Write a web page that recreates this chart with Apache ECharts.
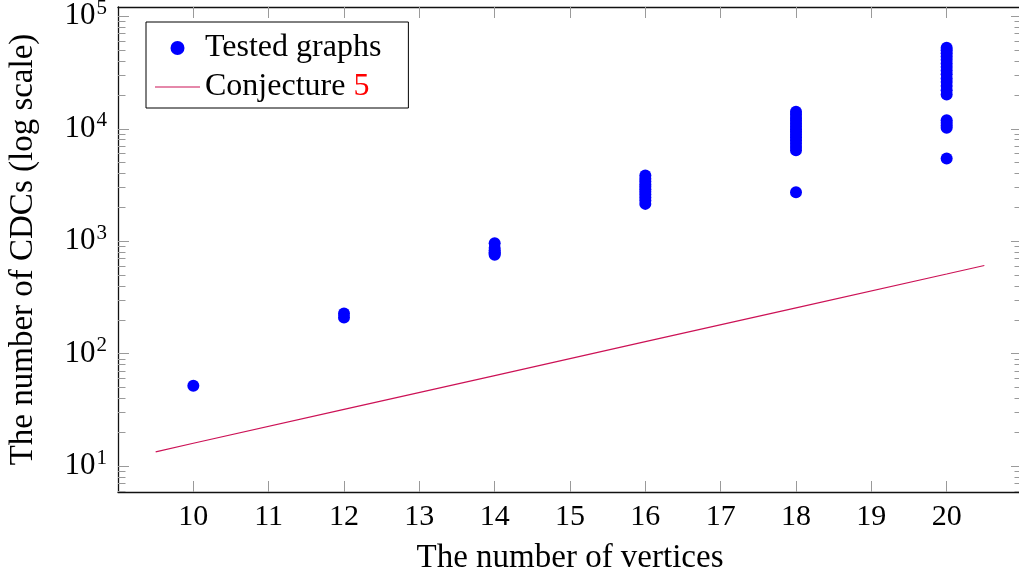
<!DOCTYPE html>
<html>
<head>
<meta charset="utf-8">
<script src="https://cdn.jsdelivr.net/npm/echarts@6/dist/echarts.min.js"></script>
<style>
html,body{margin:0;padding:0;background:#fff;}
#chart{width:1019px;height:572px;}
</style>
</head>
<body>
<div id="chart"></div>
<script>
// ---- data ----
const xTicks = [10, 11, 12, 13, 14, 15, 16, 17, 18, 19, 20];
const yMajorTicks = [10, 100, 1000, 10000, 100000];
const yMinorTicks = [6, 7, 8, 9, 20, 30, 40, 50, 60, 70, 80, 90, 200, 300, 400, 500, 600, 700, 800, 900,
  2000, 3000, 4000, 5000, 6000, 7000, 8000, 9000, 20000, 30000, 40000, 50000, 60000, 70000, 80000, 90000];

const tested_n10 = [52];
const tested_n12 = [210, 228];
const tested_n14 = [760, 780, 800, 830, 870, 960];
const tested_n16 = [2150, 2300, 2450, 2600, 2750, 2900, 3050, 3200, 3400, 3600, 3850];
const tested_n18 = [2730, 6450, 6900, 7400, 7900, 8400, 8900, 9400, 9900, 10500, 11100, 11800, 12500, 13300, 14200];
const tested_n20 = [5450, 10200, 10700, 11300, 11900, 20200, 22000, 24000, 26000, 28000, 30500, 33000,
  35500, 38000, 41000, 44000, 47000, 50000, 52500];

const conjX = [9.5, 10, 12, 14, 16, 18, 20, 20.5];
const conjY = [13.4, 16, 32, 64, 128, 256, 512, 609];

// ---- build ----
const testedPts = [];
[[10, tested_n10], [12, tested_n12], [14, tested_n14], [16, tested_n16], [18, tested_n18], [20, tested_n20]]
  .forEach(([n, arr]) => arr.forEach(v => testedPts.push([n, v])));
const conjPts = conjX.map((x, i) => [x, conjY[i]]);

const FONT = 'Liberation Serif';
const tickColor = '#9a9a9a';
const YMIN = 5.9, YMAX = 121000;

function yMajorAxis(pos, showLabels) {
  return {
    type: 'log', logBase: 10, min: YMIN, max: YMAX, position: pos,
    axisLine: { show: true, lineStyle: { color: '#111', width: 1.3 } },
    axisTick: { show: true, inside: true, length: 11, customValues: yMajorTicks,
      lineStyle: { color: tickColor, width: 1 } },
    axisLabel: { show: showLabels, customValues: yMajorTicks, margin: 11,
      formatter: v => '{b|10}{s|' + Math.round(Math.log10(v)) + '}',
      rich: {
        b: { fontFamily: FONT, fontSize: 31, color: '#000' },
        s: { fontFamily: FONT, fontSize: 21, color: '#000', padding: [0, 0, 16, 1] }
      } },
    splitLine: { show: false },
    name: showLabels ? 'The number of CDCs (log scale)' : '',
    nameLocation: 'middle', nameGap: 78, nameRotate: 90,
    nameTextStyle: { fontFamily: FONT, fontSize: 33, color: '#000' }
  };
}
function yMinorAxis(pos) {
  return {
    type: 'log', logBase: 10, min: YMIN, max: YMAX, position: pos,
    axisLine: { show: false },
    axisTick: { show: true, inside: true, length: 7.5, customValues: yMinorTicks,
      lineStyle: { color: tickColor, width: 1 } },
    axisLabel: { show: false },
    splitLine: { show: false }
  };
}

const chart = echarts.init(document.getElementById('chart'), null, { renderer: 'canvas' });
chart.setOption({
  animation: false,
  backgroundColor: '#fff',
  grid: { left: 118, right: -3, top: 7, bottom: 80, containLabel: false, outerBoundsMode: 'none' },
  legend: {
    left: 146, top: 22,
    orient: 'vertical',
    backgroundColor: '#fff',
    borderColor: '#000', borderWidth: 1, borderRadius: 0,
    padding: [10, 27, 5, 9],
    itemWidth: 45, itemHeight: 14, itemGap: 7, itemTextGap: 7,
    textStyle: { fontFamily: FONT, fontSize: 32, color: '#000', lineHeight: 32,
      rich: { r: { fontFamily: FONT, fontSize: 32, color: '#ff0000', lineHeight: 32 } } },
    formatter: name => name === 'Conjecture 5' ? 'Conjecture {r|5}' : name,
    data: [
      { name: 'Tested graphs', icon: 'circle' },
      { name: 'Conjecture 5', icon: 'path://M0,0 L45,0 L45,1.2 L0,1.2 Z' }
    ]
  },
  xAxis: [
    {
      type: 'value', min: 9, max: 21, position: 'bottom',
      axisLine: { show: true, onZero: false, lineStyle: { color: '#111', width: 1.3 } },
      axisTick: { show: true, inside: true, length: 11, customValues: xTicks,
        lineStyle: { color: tickColor, width: 1 } },
      axisLabel: { customValues: xTicks, margin: 10, fontFamily: FONT, fontSize: 30, color: '#000' },
      splitLine: { show: false },
      name: 'The number of vertices', nameLocation: 'middle', nameGap: 50,
      nameTextStyle: { fontFamily: FONT, fontSize: 33, color: '#000' }
    },
    {
      type: 'value', min: 9, max: 21, position: 'top',
      axisLine: { show: true, onZero: false, lineStyle: { color: '#111', width: 1.3 } },
      axisTick: { show: true, inside: true, length: 11, customValues: xTicks,
        lineStyle: { color: tickColor, width: 1 } },
      axisLabel: { show: false },
      splitLine: { show: false }
    }
  ],
  yAxis: [
    yMajorAxis('left', true),
    yMinorAxis('left'),
    yMajorAxis('right', false),
    yMinorAxis('right')
  ],
  series: [
    {
      name: 'Tested graphs', type: 'scatter', xAxisIndex: 0, yAxisIndex: 0,
      data: testedPts, symbol: 'circle', symbolSize: 12,
      itemStyle: { color: '#0000ff', opacity: 1 }
    },
    {
      name: 'Conjecture 5', type: 'line', xAxisIndex: 0, yAxisIndex: 0,
      data: conjPts, showSymbol: false, symbol: 'none',
      lineStyle: { color: '#cc1256', width: 1.2 },
      itemStyle: { color: '#cc1256' }
    }
  ]
});
</script>
</body>
</html>
